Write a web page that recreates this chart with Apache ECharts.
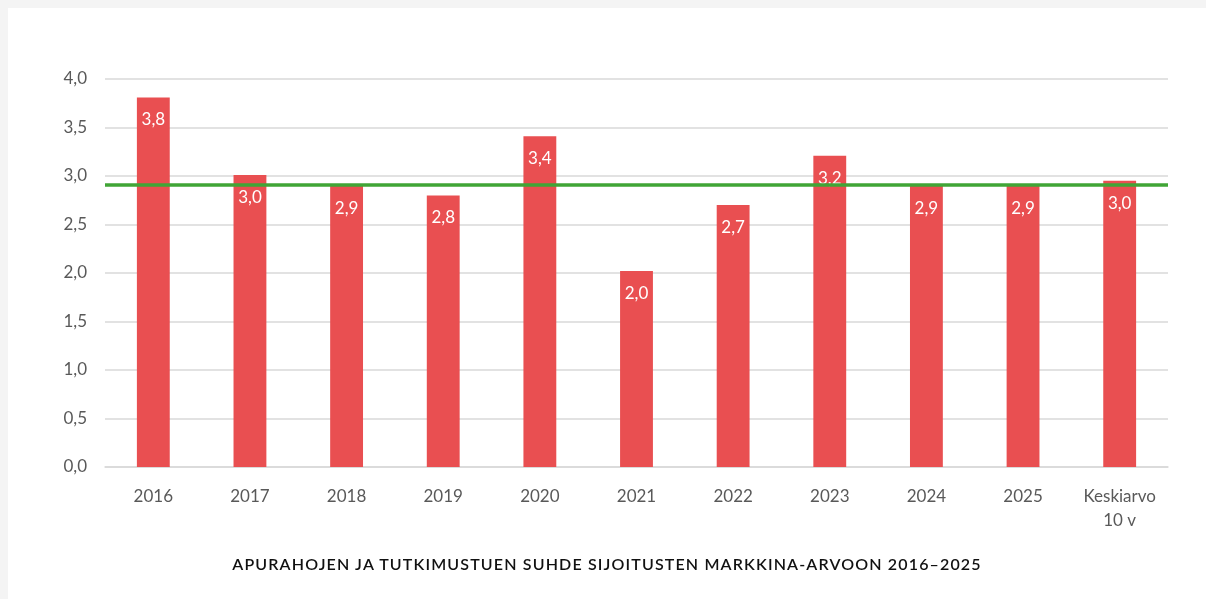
<!DOCTYPE html>
<html>
<head>
<meta charset="utf-8">
<script src="https://cdn.jsdelivr.net/npm/echarts@6/dist/echarts.min.js"></script>
<style>
  body { margin: 0; background: #f4f4f4; width: 1206px; height: 599px; overflow: hidden; }
  #panel { position: absolute; left: 8px; top: 8px; width: 1198px; height: 591px; background: #fff; }
  #chart { position: absolute; left: 0; top: 0; width: 1198px; height: 591px; }
  #caption {
    position: absolute; left: 0; width: 1198px; top: 546px; text-align: center;
    font-family: Lato, sans-serif; font-size: 16px; font-weight: 600; color: #111;
    letter-spacing: 1.15px;
  }
</style>
</head>
<body>
<div id="panel">
  <div id="chart"></div>
  <div id="caption">APURAHOJEN JA TUTKIMUSTUEN SUHDE SIJOITUSTEN MARKKINA-ARVOON 2016–2025</div>
</div>
<script>
const categories = ['2016', '2017', '2018', '2019', '2020', '2021', '2022', '2023', '2024', '2025', 'Keskiarvo\n10 v'];
const ratios = [3.81, 3.01, 2.9, 2.8, 3.41, 2.02, 2.7, 3.21, 2.9, 2.9, 2.95];
const avgLine = 2.91;
const yTicks = { min: 0, max: 4, interval: 0.5 };

const chart = echarts.init(document.getElementById('chart'));

const fmt = v => v.toFixed(1).replace('.', ',');

const option = {
  animation: false,
  textStyle: { fontFamily: 'Lato, sans-serif' },
  grid: { left: 97, right: 38, top: 71, bottom: 132 },
  xAxis: {
    type: 'category',
    data: categories,
    axisLine: { lineStyle: { color: '#d9d9d9', width: 1.5 } },
    axisTick: { show: false },
    axisLabel: { color: '#595959', fontSize: 17, margin: 18, lineHeight: 24, interval: 0 }
  },
  yAxis: {
    type: 'value',
    min: yTicks.min,
    max: yTicks.max,
    interval: yTicks.interval,
    axisLine: { show: false },
    axisTick: { show: false },
    splitLine: { lineStyle: { color: '#d9d9d9', width: 1.5 } },
    axisLabel: { color: '#595959', fontSize: 17, margin: 18, formatter: fmt }
  },
  series: [
    {
      type: 'bar',
      data: ratios,
      barWidth: '34%',
      itemStyle: { color: '#e94f51' },
      label: {
        show: true,
        position: 'insideTop',
        distance: 14,
        color: '#fff',
        fontSize: 17,
        formatter: p => fmt(p.value)
      },
      markLine: {
        silent: true,
        symbol: 'none',
        label: { show: false },
        lineStyle: { color: '#40a536', width: 3.5, type: 'solid' },
        data: [{ yAxis: avgLine }]
      }
    }
  ]
};

chart.setOption(option);
window.addEventListener('resize', chart.resize);
</script>
</body>
</html>
